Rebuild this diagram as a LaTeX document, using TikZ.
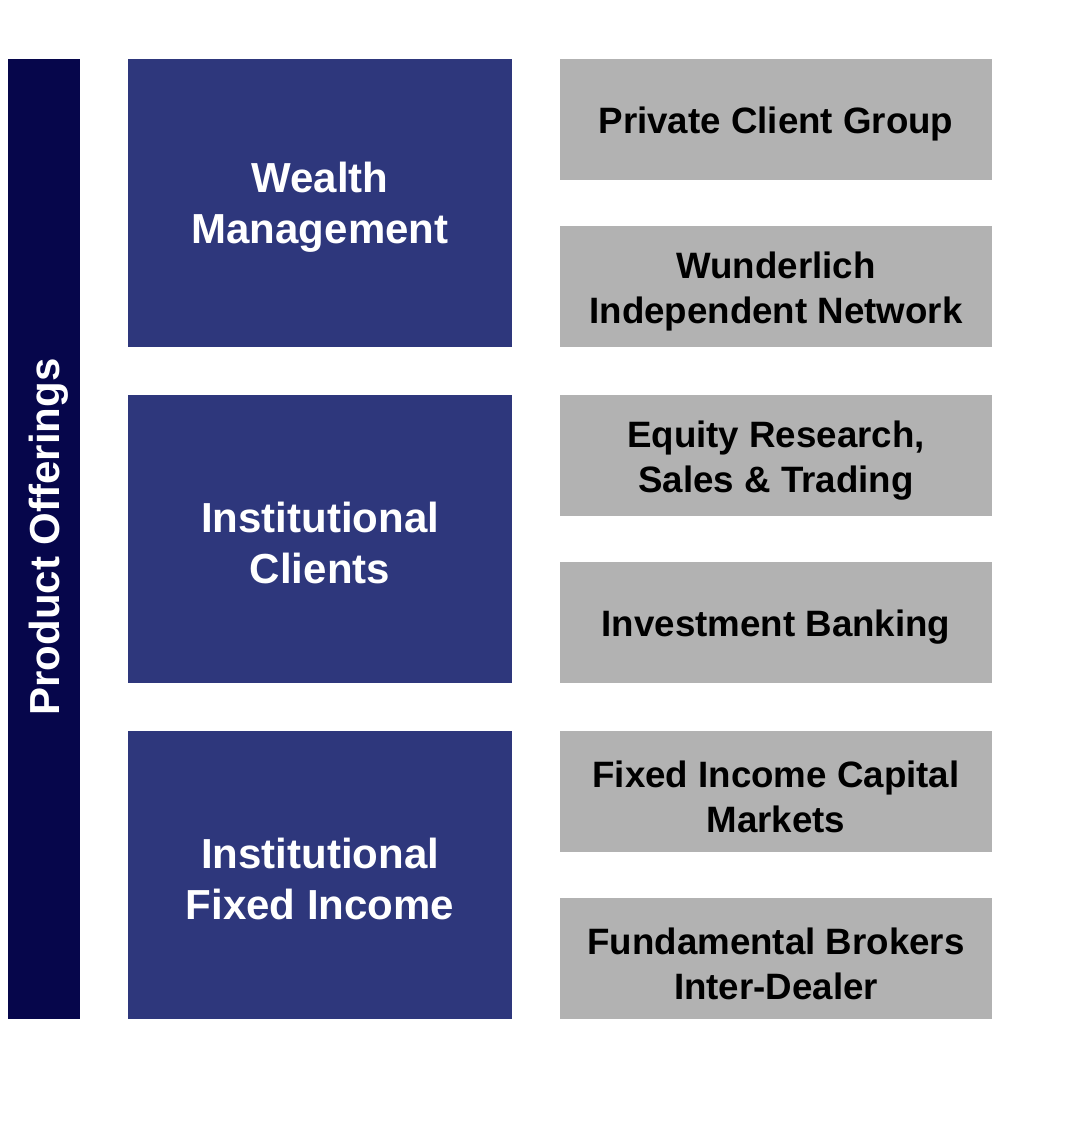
\documentclass[tikz,border=0pt]{standalone}
\usepackage{fontspec}
\setmainfont{Liberation Sans}

\definecolor{barnavy}{HTML}{06064B}
\definecolor{unitblue}{HTML}{2E377C}
\definecolor{deskgray}{HTML}{B2B2B2}

\begin{document}
\begin{tikzpicture}[x=1pt, y=1pt,
            sidebar/.style={
                fill=barnavy,
                minimum width=72pt,
                minimum height=960pt,
                inner sep=0pt,
                outer sep=0pt
            },
            segment/.style={
                fill=unitblue,
                minimum width=384pt,
                minimum height=288pt,
                inner sep=0pt,
                outer sep=0pt
            },
            desk/.style={
                fill=deskgray,
                minimum width=432pt,
                minimum height=121pt,
                inner sep=0pt,
                outer sep=0pt
            },
            segtext/.style={
                text=white,
                inner sep=0pt,
                align=center,
                font=\fontsize{42}{51.5}\selectfont\bfseries
            },
            desktext/.style={
                text=black,
                inner sep=0pt,
                align=center,
                font=\fontsize{36.7}{45}\selectfont\bfseries
            }
        ]

        \useasboundingbox (0,0) rectangle (1066,-1126);

        % Side bar (full height, left)
        \node[sidebar, anchor=north west] (bar) at (8,-59) {};

        \node[rotate=90, text=white, inner sep=0pt,
            font=\fontsize{42}{48}\selectfont\bfseries]
            (barlabel) at ([xshift=5pt, yshift=2pt] bar.center) {Product Offerings};

        % Segments (blue, middle column)
        \node[segment, anchor=north west] (wealth)
            at ([xshift=48pt] bar.north east) {};
        \node[segtext] at ([yshift=-4pt] wealth.center) {Wealth\\Management};

        \node[segment, anchor=north west] (clients)
            at ([yshift=-48pt] wealth.south west) {};
        \node[segtext] at ([yshift=-4pt] clients.center) {Institutional\\Clients};

        \node[segment, anchor=north west] (fixed)
            at ([yshift=-48pt] clients.south west) {};
        \node[segtext] at ([yshift=-4pt] fixed.center) {Institutional\\Fixed Income};

        % Desks (gray, right column, two per segment)
        \node[desk, anchor=north west] (pcg)
            at ([xshift=48pt] wealth.north east) {};
        \node[desktext] at ([yshift=-5pt] pcg.center) {Private Client Group};

        \node[desk, anchor=south west] (win)
            at ([xshift=48pt] wealth.south east) {};
        \node[desktext] at ([yshift=-5pt] win.center) {Wunderlich\\Independent Network};

        \node[desk, anchor=north west] (equity)
            at ([xshift=48pt] clients.north east) {};
        \node[desktext] at ([yshift=-5pt] equity.center) {Equity Research,\\Sales \& Trading};

        \node[desk, anchor=south west] (ib)
            at ([xshift=48pt] clients.south east) {};
        \node[desktext] at ([yshift=-5pt] ib.center) {Investment Banking};

        \node[desk, anchor=north west] (ficm)
            at ([xshift=48pt] fixed.north east) {};
        \node[desktext] at ([yshift=-5pt] ficm.center) {Fixed Income Capital\\Markets};

        \node[desk, anchor=south west] (fbid)
            at ([xshift=48pt] fixed.south east) {};
        \node[desktext] at ([yshift=-5pt] fbid.center) {Fundamental Brokers\\Inter-Dealer};
        \end{tikzpicture}
\end{document}
